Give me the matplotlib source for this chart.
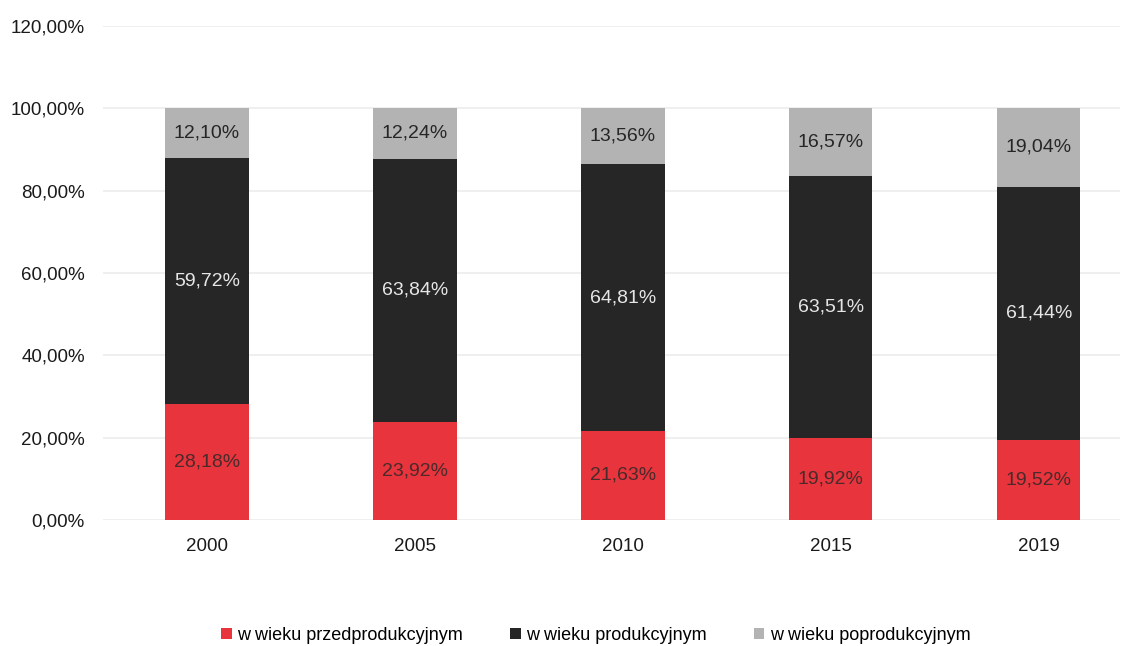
import matplotlib.pyplot as plt
import numpy as np

plt.rcParams['font.family'] = ['Liberation Sans', 'DejaVu Sans']

#### Data ####
years = ['2000', '2005', '2010', '2015', '2019']
przed = [28.18, 23.92, 21.63, 19.92, 19.52]
prod = [59.72, 63.84, 64.81, 63.51, 61.44]
popro = [12.10, 12.24, 13.56, 16.57, 19.04]
series_names = ['w wieku przedprodukcyjnym', 'w wieku produkcyjnym', 'w wieku poprodukcyjnym']

colors = ['#e8343c', '#262626', '#b3b3b3']
text_colors = ['#4a2a2a', '#e6e6e6', '#262626']


def pl(v):
    return ('%.2f%%' % v).replace('.', ',')


fig = plt.figure(figsize=(11.28, 6.46), dpi=100)
ax = fig.add_axes([0.0913, 0.195, 0.9016, 0.765])

x = np.arange(len(years))
bottom = np.zeros(len(years))
for vals, col, tcol, name in zip([przed, prod, popro], colors, text_colors, series_names):
    ax.bar(x, vals, 0.4, bottom=bottom, color=col, label=name, zorder=2)
    for xi, b, v in zip(x, bottom, vals):
        ax.text(xi, b + v / 2, pl(v), ha='center', va='center', color=tcol, fontsize=14, zorder=3)
    bottom = bottom + np.array(vals)

ax.set_ylim(0, 120)
ax.set_xlim(-0.5, 4.39)
ax.set_yticks(range(0, 121, 20))
ax.set_yticklabels([pl(v) for v in range(0, 121, 20)], fontsize=13.5, color='#1a1a1a')
ax.set_xticks(x)
ax.set_xticklabels(years, fontsize=13.5, color='#1a1a1a')
ax.tick_params(length=0, pad=13)
ax.grid(axis='y', color='#ececec', linewidth=1.2, zorder=0)
for s in ax.spines.values():
    s.set_visible(False)

fig.legend(loc='lower center', bbox_to_anchor=(0.528, -0.022), ncol=3, frameon=False,
           fontsize=13, handlelength=0.6, handleheight=0.6, handletextpad=0.3,
           columnspacing=2.6)

plt.savefig('out.png', dpi=100)
